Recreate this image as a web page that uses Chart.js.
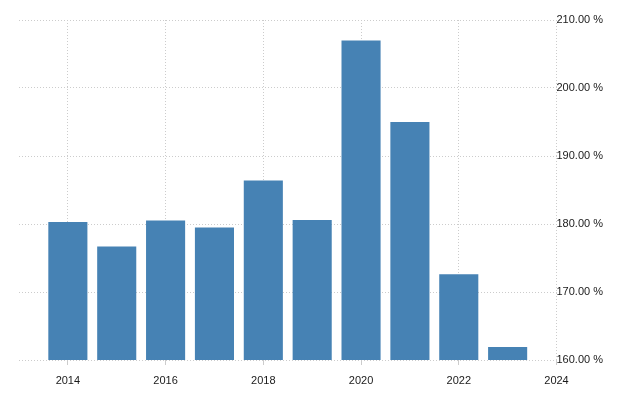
<!DOCTYPE html>
<html>
<head>
<meta charset="utf-8">
<script src="https://cdn.jsdelivr.net/npm/chart.js@4"></script>
<style>
  html, body { margin: 0; padding: 0; background: #fff; }
  #wrap { width: 640px; height: 400px; }
</style>
</head>
<body>
<div id="wrap"><canvas id="myChart" width="640" height="400"></canvas></div>
<script>
const years = [2014, 2015, 2016, 2017, 2018, 2019, 2020, 2021, 2022, 2023]
const values = [180.3, 176.7, 180.5, 179.5, 186.4, 180.6, 207.0, 195.0, 172.6, 161.9]
const xTicks = [2014, 2016, 2018, 2020, 2022, 2024]
const yTicks = [160, 170, 180, 190, 200, 210]

const gridColor = '#cccccc'
const textColor = '#1a1a1a'

const ctx = document.getElementById('myChart')

const myChart = new Chart(ctx, {
  type: 'bar',
  data: {
    datasets: [{
      data: years.map((y, i) => ({ x: y, y: values[i] })),
      backgroundColor: '#4682b4',
      borderWidth: 0,
      barPercentage: 0.8,
      categoryPercentage: 1
    }]
  },
  options: {
    responsive: false,
    animation: false,
    layout: {
      padding: { left: 19, top: 20, right: 0, bottom: 0 }
    },
    plugins: {
      legend: { display: false },
      tooltip: { enabled: false }
    },
    scales: {
      x: {
        type: 'linear',
        offset: false,
        min: 2013,
        max: 2024,
        afterBuildTicks: (scale) => {
          scale.ticks = xTicks.map(v => ({ value: v }))
        },
        afterFit: (scale) => { scale.height = 40 },
        border: { display: false, dash: [1, 2] },
        grid: {
          offset: false,
          color: gridColor,
          tickLength: 5,
          tickBorderDash: [],
          tickColor: gridColor
        },
        ticks: {
          color: textColor,
          font: { family: 'Liberation Sans, Arial', size: 11 },
          padding: 9,
          maxRotation: 0,
          callback: (v) => String(v)
        }
      },
      y: {
        position: 'right',
        min: 160,
        max: 210,
        afterBuildTicks: (scale) => {
          scale.ticks = yTicks.map(v => ({ value: v }))
        },
        afterFit: (scale) => { scale.width = 83.5 },
        border: { display: false, dash: [1, 2] },
        grid: {
          color: gridColor,
          drawTicks: false
        },
        ticks: {
          color: textColor,
          font: { family: 'Liberation Sans, Arial', size: 11 },
          padding: 0,
          callback: (v) => v.toFixed(2) + ' %'
        }
      }
    }
  }
})
</script>
</body>
</html>
